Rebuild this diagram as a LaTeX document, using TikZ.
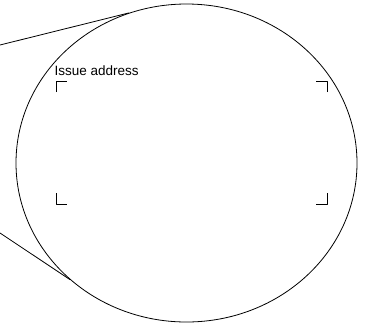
\documentclass[tikz,border=0pt]{standalone}
\usepackage{fontspec}
\setmainfont{Liberation Sans}
\usetikzlibrary{shapes.geometric}
\begin{document}
\begin{tikzpicture}[x=1pt,y=-1pt, line join=round, line cap=round, font=\fontsize{13.5}{15}\selectfont]
	\def\rx{170.5} \def\ry{159}% lens
	\def\arm{11}
	\useasboundingbox (0,0) rectangle (366,325);
	\node[ellipse,draw,line width=0.8pt,inner sep=0pt,minimum width=2*\rx pt,minimum height=2*\ry pt] (lens) at (186.5,163) {};
	\coordinate (up) at (0,45);
	\coordinate (down) at (0,233);
	\draw[line width=0.8pt] (up)--(lens.111) (down)--(lens.225);
	\node[anchor=base west,inner sep=0pt] (issue) at (54.5,75) {Issue address};
	\foreach \x/\y/\sx/\sy in {56/81/1/1,327/81/-1/1,56/204/1/-1,327/204/-1/-1}
		\draw[line width=1pt,line cap=butt] (\x,\y+\arm*\sy)--(\x,\y)--(\x+\arm*\sx,\y);
\end{tikzpicture}
\end{document}
